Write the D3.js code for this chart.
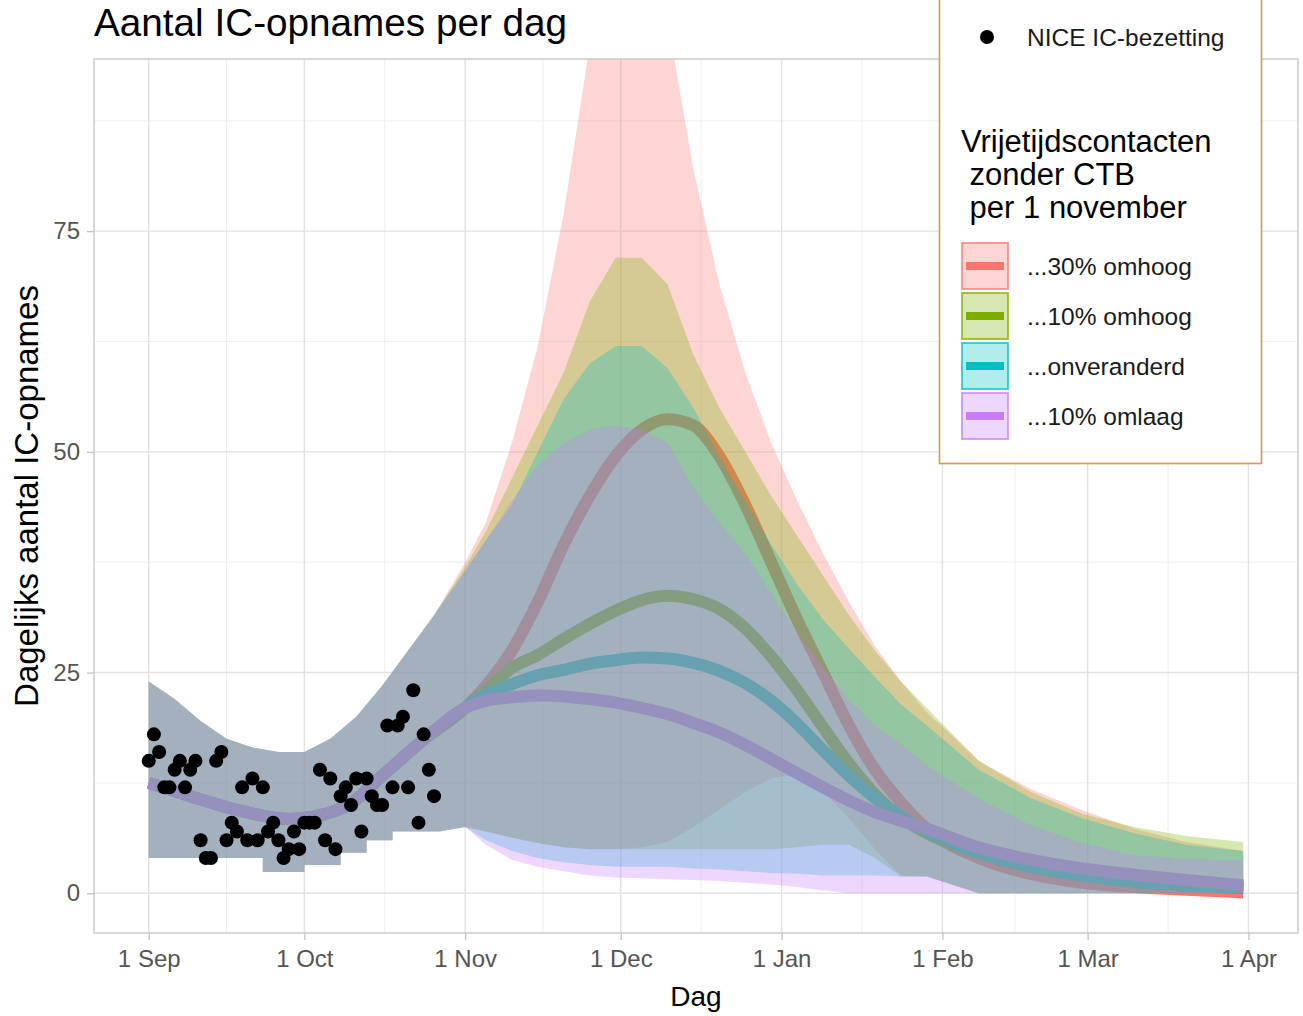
<!DOCTYPE html>
<html>
<head>
<meta charset="utf-8">
<script src="https://cdn.jsdelivr.net/npm/d3@7"></script>
<style>
  body { margin: 0; background: #fff; }
  svg { display: block; }
  text { font-family: "Liberation Sans", Arial, Helvetica, sans-serif; }
</style>
</head>
<body>
<svg id="chart" width="1303" height="1016"></svg>
<script>
// ---- data -------------------------------------------------------------
// All x positions are day offsets from 1 September 2021.
const monthTicks = ["2021-09-01", "2021-10-01", "2021-11-01", "2021-12-01",
                    "2022-01-01", "2022-02-01", "2022-03-01", "2022-04-01"];
const monthLabels = ["1 Sep", "1 Oct", "1 Nov", "1 Dec", "1 Jan", "1 Feb", "1 Mar", "1 Apr"];
const yTicks = [0, 25, 50, 75];
const yMinor = [12.5, 37.5, 62.5, 87.5];

// NICE IC admissions, one value per day from 1 Sep to 26 Oct
const niceValues = [15, 18, 16, 12, 12, 14, 15, 12, 14, 15, 6, 4, 4, 15, 16, 6, 8, 7, 12, 6,
                    13, 6, 12, 7, 8, 6, 4, 5, 7, 5, 8, 8, 8, 14, 6, 13, 5, 11, 12, 10,
                    13, 7, 13, 11, 10, 10, 19, 12, 19, 20, 12, 23, 8, 18, 14, 11];

// Model fit shared by all scenarios up to 1 November
const fitDays = [0, 8, 18, 27, 32, 39, 45, 53];
const fitLine = [12.5, 11, 9.3, 8.4, 8.7, 10.2, 13.3, 17.4];
const fitHiDays = [0, 5, 10, 15, 20, 25, 30, 35, 40, 45, 50, 55];
const fitHi = [24, 22, 19.5, 17.5, 16.5, 16, 16, 17.5, 20, 23.5, 27.5, 31.5];
const fitLoDays = [0, 22, 22, 30, 30, 37, 37, 42, 42, 47, 47, 56];
const fitLo = [4, 4, 2.4, 2.4, 3.2, 3.2, 4.6, 4.6, 6, 6, 7, 7];

// Scenario projections from 1 November
const scenDays = [61, 65, 70, 75, 80, 85, 90, 95, 100, 105, 110, 115, 120,
                  125, 130, 135, 140, 145, 150, 160, 170, 180, 190, 200, 211];

const up30Line = [21, 23.5, 27.5, 33, 39.5, 45, 49.5, 52.5, 53.7, 53, 49.5, 44, 37.5,
                  31, 25, 19, 14, 10.3, 7.3, 4, 2.2, 1.2, 0.7, 0.4, 0.1];
const up30Hi   = [37.5, 42, 51, 62, 77, 96, 100, 102, 99, 82, 69, 59, 51,
                  44.5, 38.5, 33, 28, 24, 20.5, 15, 11.8, 9.4, 7.3, 5.8, 4.8];
const up30Lo   = [7.5, 7, 6.3, 5.7, 5.2, 5, 5, 5.2, 5.8, 7.5, 9.5, 11.5, 13,
                  13.5, 11.5, 8.5, 5, 2, 1.9, 0, 0, 0, 0, 0, 0];

const up10Line = [21, 23, 25.5, 27, 28.8, 30.5, 32, 33.2, 33.7, 33.3, 32.2, 30, 26.8,
                  23, 18.8, 14.7, 11.2, 8.6, 6.8, 4.5, 3, 2, 1.3, 0.9, 0.6];
const up10Hi   = [37, 41, 47, 53, 59, 67, 72, 72, 69, 61, 55, 50, 45,
                  40.5, 36, 31.5, 27.5, 24, 21, 15, 11.5, 9, 7.5, 6.5, 5.8];
const up10Lo   = [7.5, 7, 6.3, 5.7, 5.2, 5, 5, 5, 5, 5, 5, 5, 5,
                  5.2, 5.5, 5.5, 4, 1.9, 1.9, 0, 0, 0, 0, 0, 0];

const sameLine = [21, 22.5, 23.7, 24.7, 25.3, 26, 26.4, 26.7, 26.6, 26.1, 25.2, 23.8, 21.8,
                  19.2, 16.2, 13.3, 10.8, 8.7, 7, 4.6, 3, 2, 1.3, 0.9, 0.6];
const sameHi   = [36.5, 40, 44, 50, 56, 60, 62, 62, 59.5, 55, 49.5, 44.5, 39.5,
                  35, 31, 27.7, 24.5, 21.4, 19, 14, 10.8, 8.5, 6.8, 5.5, 4.8];
const sameLo   = [7.5, 6, 4.8, 4, 3.5, 3.2, 3, 3, 3, 2.8, 2.7, 2.5, 2.3,
                  2.2, 2, 2, 2, 1.9, 1.9, 0, 0, 0, 0, 0, 0];

const down10Line = [21, 21.8, 22.2, 22.4, 22.3, 22, 21.6, 21, 20.3, 19.3, 18.2, 16.8, 15.2,
                    13.6, 12, 10.5, 9.2, 8.2, 7.3, 5.2, 3.8, 2.8, 2.1, 1.5, 0.9];
const down10Hi   = [36.5, 40, 44.5, 48.5, 51, 52.5, 53, 52.5, 51, 46, 42, 38.5, 34,
                    29.5, 25.5, 22, 19, 16.9, 14.5, 10.7, 7.7, 5.7, 4.3, 3.9, 3.7];
const down10Lo   = [7.5, 5.5, 3.8, 3, 2.5, 2, 1.8, 1.7, 1.6, 1.5, 1.4, 1.2, 1,
                    0.7, 0.3, 0, 0, 0, 0, 0, 0, 0, 0, 0, 0];

const scenarioNames = ["...30% omhoog", "...10% omhoog", "...onveranderd", "...10% omlaag"];
const scenarioColors = ["#F8766D", "#7CAE00", "#00BFC4", "#C77CFF"];
const scenarioLines = [up30Line, up10Line, sameLine, down10Line];
const scenarioHi = [up30Hi, up10Hi, sameHi, down10Hi];
const scenarioLo = [up30Lo, up10Lo, sameLo, down10Lo];

// ---- layout & scales ---------------------------------------------------
const svg = d3.select("#chart");
const P = { left: 94, right: 1298, top: 59, bottom: 933 };
const t0 = Date.UTC(2021, 8, 1);
const dayDate = d => new Date(t0 + d * 864e5);

const x = d3.scaleUtc()
  .domain([dayDate(-10.55), dayDate(221.55)])
  .range([P.left, P.right]);
const y = d3.scaleLinear().domain([-4.5, 94.5]).range([P.bottom, P.top]);

const tickDates = monthTicks.map(s => new Date(s + "T00:00:00Z"));
const minorDates = d3.pairs(tickDates).map(([a, b]) => new Date((+a + +b) / 2));

svg.append("rect").attr("width", 1303).attr("height", 1016).attr("fill", "#fff");

svg.append("defs").append("clipPath").attr("id", "panel-clip")
  .append("rect").attr("x", P.left).attr("y", P.top)
  .attr("width", P.right - P.left).attr("height", P.bottom - P.top);

// grid
const grid = svg.append("g");
grid.selectAll(".vminor").data(minorDates).join("line")
  .attr("x1", d => x(d)).attr("x2", d => x(d)).attr("y1", P.top).attr("y2", P.bottom)
  .attr("stroke", "#EFEFEF").attr("stroke-width", 1);
grid.selectAll(".hminor").data(yMinor).join("line")
  .attr("x1", P.left).attr("x2", P.right).attr("y1", d => y(d)).attr("y2", d => y(d))
  .attr("stroke", "#EFEFEF").attr("stroke-width", 1);
grid.selectAll(".vmajor").data(tickDates).join("line")
  .attr("x1", d => x(d)).attr("x2", d => x(d)).attr("y1", P.top).attr("y2", P.bottom)
  .attr("stroke", "#E2E2E2").attr("stroke-width", 1.4);
grid.selectAll(".hmajor").data(yTicks).join("line")
  .attr("x1", P.left).attr("x2", P.right).attr("y1", d => y(d)).attr("y2", d => y(d))
  .attr("stroke", "#E2E2E2").attr("stroke-width", 1.4);

// ---- marks -------------------------------------------------------------
const plot = svg.append("g").attr("clip-path", "url(#panel-clip)");
const pts = (days, vals) => days.map((d, i) => [x(dayDate(d)), y(vals[i])]);

// central estimates (drawn beneath the uncertainty bands)
const smooth = d3.line().curve(d3.curveMonotoneX);
scenarioLines.forEach((vals, k) => {
  const p = pts(fitDays, fitLine).concat(pts(scenDays, vals));
  plot.append("path").attr("d", smooth(p))
    .attr("fill", "none").attr("stroke", scenarioColors[k])
    .attr("stroke-width", 12).attr("stroke-linecap", "butt").attr("stroke-linejoin", "round");
});

// uncertainty bands
const poly = d3.line();
scenarioHi.forEach((hi, k) => {
  const top = pts(fitHiDays, fitHi).concat(pts(scenDays, hi));
  const bot = pts(fitLoDays, fitLo).concat(pts(scenDays, scenarioLo[k])).reverse();
  plot.append("path").attr("d", poly(top.concat(bot)) + "Z")
    .attr("fill", scenarioColors[k]).attr("fill-opacity", 0.3);
});

// observations
plot.selectAll(".obs").data(niceValues).join("circle")
  .attr("cx", (v, i) => x(dayDate(i))).attr("cy", v => y(v))
  .attr("r", 7).attr("fill", "#000");

// panel border
svg.append("rect").attr("x", P.left).attr("y", P.top)
  .attr("width", P.right - P.left).attr("height", P.bottom - P.top)
  .attr("fill", "none").attr("stroke", "#C4C4C4").attr("stroke-width", 1.3);

// ---- axes --------------------------------------------------------------
const xAxis = svg.append("g").attr("transform", `translate(0,${P.bottom})`)
  .call(d3.axisBottom(x).tickValues(tickDates)
    .tickFormat((d, i) => monthLabels[i]).tickSize(7).tickPadding(10));
const yAxis = svg.append("g").attr("transform", `translate(${P.left},0)`)
  .call(d3.axisLeft(y).tickValues(yTicks).tickSize(7).tickPadding(7));
[xAxis, yAxis].forEach(a => {
  a.select(".domain").remove();
  a.selectAll(".tick line").attr("stroke", "#C4C4C4").attr("stroke-width", 1.3);
  a.selectAll(".tick text").attr("fill", "#555").attr("font-size", 24)
    .style("font-family", '"Liberation Sans", Arial, sans-serif');
});
xAxis.selectAll(".tick text").attr("dy", "0.71em");

svg.append("text").attr("x", (P.left + P.right) / 2).attr("y", 1006)
  .attr("text-anchor", "middle").attr("font-size", 28).attr("fill", "#000").text("Dag");
svg.append("text")
  .attr("transform", `translate(38,${(P.top + P.bottom) / 2}) rotate(-90)`)
  .attr("text-anchor", "middle").attr("font-size", 33).attr("fill", "#000")
  .text("Dagelijks aantal IC-opnames");

svg.append("text").attr("x", 94).attr("y", 36).attr("font-size", 38.7).attr("fill", "#000")
  .text("Aantal IC-opnames per dag");

// ---- legend ------------------------------------------------------------
const lg = svg.append("g");
lg.append("rect").attr("x", 939.5).attr("y", -20).attr("width", 322).attr("height", 483.5)
  .attr("fill", "#fff").attr("stroke", "#D49B45").attr("stroke-width", 1.6);
lg.append("circle").attr("cx", 987).attr("cy", 37).attr("r", 7).attr("fill", "#000");
lg.append("text").attr("x", 1027).attr("y", 46).attr("font-size", 24.5).attr("fill", "#1a1a1a")
  .text("NICE IC-bezetting");

const legendTitle = ["Vrijetijdscontacten", " zonder CTB", " per 1 november"];
lg.append("text").attr("font-size", 31).attr("fill", "#000")
  .attr("xml:space", "preserve")
  .selectAll("tspan").data(legendTitle).join("tspan")
  .attr("x", 961).attr("y", (d, i) => 152 + i * 33).text(d => d);

const keys = lg.selectAll(".key").data(scenarioNames).join("g")
  .attr("transform", (d, i) => `translate(962,${243 + i * 50})`);
keys.append("rect").attr("width", 46).attr("height", 46)
  .attr("fill", (d, i) => scenarioColors[i]).attr("fill-opacity", 0.3)
  .attr("stroke", (d, i) => scenarioColors[i]).attr("stroke-opacity", 0.7).attr("stroke-width", 2);
keys.append("line").attr("x1", 4).attr("x2", 42).attr("y1", 23).attr("y2", 23)
  .attr("stroke", (d, i) => scenarioColors[i]).attr("stroke-width", 8);
keys.append("text").attr("x", 65).attr("y", 32).attr("font-size", 24.5).attr("fill", "#1a1a1a")
  .text(d => d);
</script>
</body>
</html>
